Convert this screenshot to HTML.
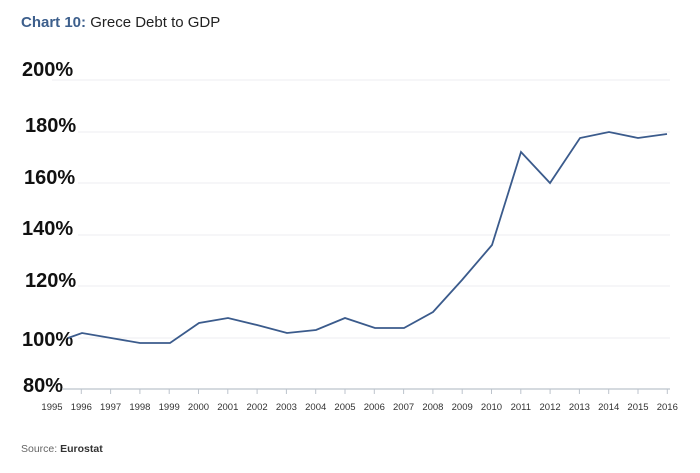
<!DOCTYPE html><html><head><style>body{margin:0;background:#fff;width:700px;height:468px;overflow:hidden;font-family:"Liberation Sans",sans-serif}</style></head><body>
<svg width="700" height="468" xmlns="http://www.w3.org/2000/svg" font-family="Liberation Sans, sans-serif">
<text x="21" y="27" font-size="15" fill="#222"><tspan fill="#3d5f8c" font-weight="bold">Chart 10:</tspan> Grece Debt to GDP</text>
<g stroke="#eceef2" stroke-width="1">
<line x1="52" x2="670" y1="80" y2="80"/><line x1="78" x2="670" y1="132" y2="132"/><line x1="78" x2="670" y1="183" y2="183"/><line x1="78" x2="670" y1="235" y2="235"/><line x1="78" x2="670" y1="286" y2="286"/><line x1="78" x2="670" y1="338" y2="338"/>
</g>
<g font-size="20" font-weight="bold" fill="#111">
<text x="22" y="76">200%</text><text x="25" y="132">180%</text><text x="24" y="184">160%</text><text x="22" y="235">140%</text><text x="25" y="287">120%</text><text x="22" y="346">100%</text><text x="23" y="392">80%</text>
</g>
<line x1="62" x2="670" y1="389" y2="389" stroke="#bcc3cc" stroke-width="1.2"/>
<g id="ticks" stroke="#bcc3cc"></g>
<g font-size="9.5" fill="#333" text-anchor="middle" id="lbl"></g>
<polyline fill="none" stroke="#3b5b8c" stroke-width="1.8" points="68,338 82,333 111,338 140,343 170,343 199,323 228,318 257,325 287,333 316,330 345,318 375,328 404,328 433,312 462,280 492,245 521,152 550,183 580,138 609,132 638,138 667,134"/>
<text x="21" y="452" font-size="10.5" fill="#666">Source:  <tspan fill="#333" font-weight="bold">Eurostat</tspan></text>
<script>
var t=document.getElementById('ticks'),l=document.getElementById('lbl');
for(var i=0;i<22;i++){var x=52+29.3*i;
if(i>0){var ln=document.createElementNS('http://www.w3.org/2000/svg','line');ln.setAttribute('x1',x);ln.setAttribute('x2',x);ln.setAttribute('y1',389);ln.setAttribute('y2',394);t.appendChild(ln);}
var tx=document.createElementNS('http://www.w3.org/2000/svg','text');tx.setAttribute('x',x);tx.setAttribute('y',410);tx.textContent=1995+i;l.appendChild(tx);}
</script>
</svg></body></html>
